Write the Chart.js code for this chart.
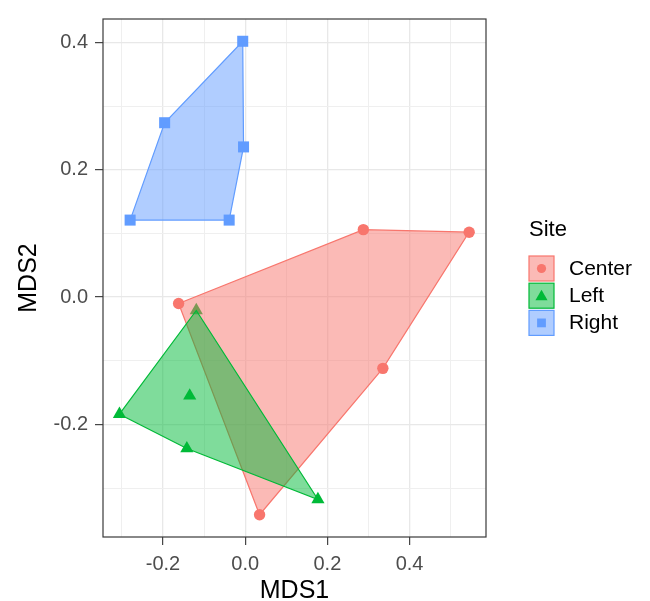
<!DOCTYPE html>
<html>
<head>
<meta charset="utf-8">
<script src="https://cdn.jsdelivr.net/npm/chart.js@4.4.1/dist/chart.umd.min.js"></script>
<style>
  html, body { margin: 0; padding: 0; background: #ffffff; }
  #wrap { width: 650px; height: 601px; }
</style>
</head>
<body>
<div id="wrap"><canvas id="mds" width="650" height="601"></canvas></div>
<script>
// NMDS site scores, one pair of arrays per sampling site
const sites = ['Center', 'Left', 'Right'];

const centerX = [-0.162, 0.035, 0.2875, 0.545, 0.335];
const centerY = [-0.010, -0.342, 0.106, 0.102, -0.112];

const leftX = [-0.119, -0.135, -0.306, -0.142, 0.177];
const leftY = [-0.021, -0.155, -0.184, -0.238, -0.318];

const rightX = [-0.006, -0.196, -0.004, -0.280, -0.039];
const rightY = [0.402, 0.274, 0.236, 0.121, 0.121];

// axis ticks
const xMajor = [-0.2, 0.0, 0.2, 0.4];
const xMinor = [-0.3, -0.1, 0.1, 0.3, 0.5];
const yMajor = [-0.2, 0.0, 0.2, 0.4];
const yMinor = [-0.3, -0.1, 0.1, 0.3];

const FONT = "'Liberation Sans', Arial, Helvetica, sans-serif";
const siteColors = { Center: '248,118,109', Left: '0,186,56', Right: '97,156,255' };
const siteShapes = { Center: 'circle', Left: 'triangle', Right: 'rect' };
const siteRadius = { Center: 5.7, Left: 7.6, Right: 7.8 };

const siteX = { Center: centerX, Left: leftX, Right: rightX };
const siteY = { Center: centerY, Left: leftY, Right: rightY };

function toPoints(xs, ys) {
  return xs.map((x, i) => ({ x: x, y: ys[i] }));
}

// convex hull (monotone chain), returned closed
function hull(pts) {
  const p = pts.slice().sort((a, b) => a.x - b.x || a.y - b.y);
  const cross = (o, a, b) => (a.x - o.x) * (b.y - o.y) - (a.y - o.y) * (b.x - o.x);
  const lower = [];
  for (const q of p) {
    while (lower.length >= 2 && cross(lower[lower.length - 2], lower[lower.length - 1], q) <= 0) lower.pop();
    lower.push(q);
  }
  const upper = [];
  for (let i = p.length - 1; i >= 0; i--) {
    const q = p[i];
    while (upper.length >= 2 && cross(upper[upper.length - 2], upper[upper.length - 1], q) <= 0) upper.pop();
    upper.push(q);
  }
  upper.pop(); lower.pop();
  const h = lower.concat(upper);
  h.push(h[0]);
  return h;
}

const isMajor = (v, list) => list.some(m => Math.abs(m - v) < 1e-9);

const datasets = [];
// points first (underneath), then hull polygons in site order
sites.forEach((s) => {
  datasets.push({
    type: 'scatter',
    label: s + ' points',
    data: toPoints(siteX[s], siteY[s]),
    pointStyle: siteShapes[s],
    pointRadius: siteRadius[s],
    pointHoverRadius: siteRadius[s],
    backgroundColor: 'rgb(' + siteColors[s] + ')',
    borderWidth: 0,
    order: 10
  });
});
sites.forEach((s, i) => {
  datasets.push({
    type: 'line',
    label: s,
    data: hull(toPoints(siteX[s], siteY[s])),
    borderColor: 'rgb(' + siteColors[s] + ')',
    backgroundColor: 'rgba(' + siteColors[s] + ',0.5)',
    borderWidth: 1.2,
    fill: 'shape',
    tension: 0,
    pointRadius: 0,
    pointHoverRadius: 0,
    order: 5 - i
  });
});

function axisGrid(major) {
  return {
    color: c => isMajor(c.tick.value, major) ? '#E8E8E8' : '#EFEFEF',
    lineWidth: c => isMajor(c.tick.value, major) ? 1.3 : 1,
    tickColor: c => isMajor(c.tick.value, major) ? '#333333' : 'rgba(0,0,0,0)',
    tickLength: 8,
    tickWidth: 1.1,
    drawTicks: true
  };
}

// panel border drawn over the data, as in theme_bw
const panelBorder = {
  id: 'panelBorder',
  afterDatasetsDraw(chart) {
    const { ctx, chartArea: a } = chart;
    ctx.save();
    ctx.strokeStyle = '#3a3a3a';
    ctx.lineWidth = 1.2;
    ctx.strokeRect(a.left, a.top, a.right - a.left, a.bottom - a.top);
    ctx.restore();
  }
};

function drawMarker(ctx, shape, x, y, r) {
  ctx.beginPath();
  if (shape === 'circle') {
    ctx.arc(x, y, r, 0, Math.PI * 2);
  } else if (shape === 'triangle') {
    const w = r * Math.sin(Math.PI / 3);
    ctx.moveTo(x, y - r);
    ctx.lineTo(x + w, y + r / 2);
    ctx.lineTo(x - w, y + r / 2);
    ctx.closePath();
  } else {
    const h = r * Math.SQRT1_2;
    ctx.rect(x - h, y - h, 2 * h, 2 * h);
  }
  ctx.fill();
}

// ggplot-style legend: title, filled key boxes with the site marker
const siteLegend = {
  id: 'siteLegend',
  afterDraw(chart) {
    const ctx = chart.ctx;
    ctx.save();
    ctx.fillStyle = '#000000';
    ctx.font = '22px ' + FONT;
    ctx.textAlign = 'left';
    ctx.textBaseline = 'middle';
    ctx.fillText('Site', 529, 230);
    sites.forEach((s, i) => {
      const top = 256 + i * 27.2;
      const col = siteColors[s];
      ctx.fillStyle = 'rgba(' + col + ',0.5)';
      ctx.fillRect(529, top, 25, 25);
      ctx.strokeStyle = 'rgb(' + col + ')';
      ctx.lineWidth = 1.2;
      ctx.strokeRect(529, top, 25, 25);
      ctx.fillStyle = 'rgb(' + col + ')';
      const r = s === 'Center' ? 4.6 : (s === 'Left' ? 7 : 6.2);
      drawMarker(ctx, siteShapes[s], 541.5, top + 12.5 + (s === 'Left' ? 1 : 0), r);
      ctx.fillStyle = '#000000';
      ctx.font = '21px ' + FONT;
      ctx.fillText(s, 569, top + 13);
    });
    ctx.restore();
  }
};

new Chart(document.getElementById('mds'), {
  type: 'scatter',
  data: { datasets: datasets },
  options: {
    responsive: false,
    animation: false,
    events: [],
    layout: { padding: { top: 13, right: 164, bottom: 0, left: 0 } },
    plugins: {
      legend: { display: false },
      tooltip: { enabled: false },
      title: { display: false }
    },
    scales: {
      x: {
        type: 'linear',
        min: -0.346,
        max: 0.586,
        afterBuildTicks: s => { s.ticks = xMajor.concat(xMinor).sort((a, b) => a - b).map(v => ({ value: v })); },
        afterFit: s => { s.height = 64; },
        ticks: {
          autoSkip: false,
          maxRotation: 0,
          padding: 7,
          color: '#4D4D4D',
          font: { family: FONT, size: 20 },
          callback: v => isMajor(v, xMajor) ? v.toFixed(1) : ''
        },
        grid: axisGrid(xMajor),
        border: { display: false },
        title: {
          display: true,
          text: 'MDS1',
          color: '#000000',
          font: { family: FONT, size: 25, lineHeight: 0.8 },
          padding: { top: 0, bottom: 0 }
        }
      },
      y: {
        type: 'linear',
        min: -0.377,
        max: 0.437,
        afterBuildTicks: s => { s.ticks = yMajor.concat(yMinor).sort((a, b) => a - b).map(v => ({ value: v })); },
        afterFit: s => { s.width = 103; },
        ticks: {
          autoSkip: false,
          padding: 7,
          color: '#4D4D4D',
          font: { family: FONT, size: 20 },
          callback: v => isMajor(v, yMajor) ? v.toFixed(1) : ''
        },
        grid: axisGrid(yMajor),
        border: { display: false },
        title: {
          display: true,
          text: 'MDS2',
          color: '#000000',
          font: { family: FONT, size: 25, lineHeight: 1 },
          padding: { top: 17, bottom: 0 }
        }
      }
    }
  },
  plugins: [panelBorder, siteLegend]
});
</script>
</body>
</html>
